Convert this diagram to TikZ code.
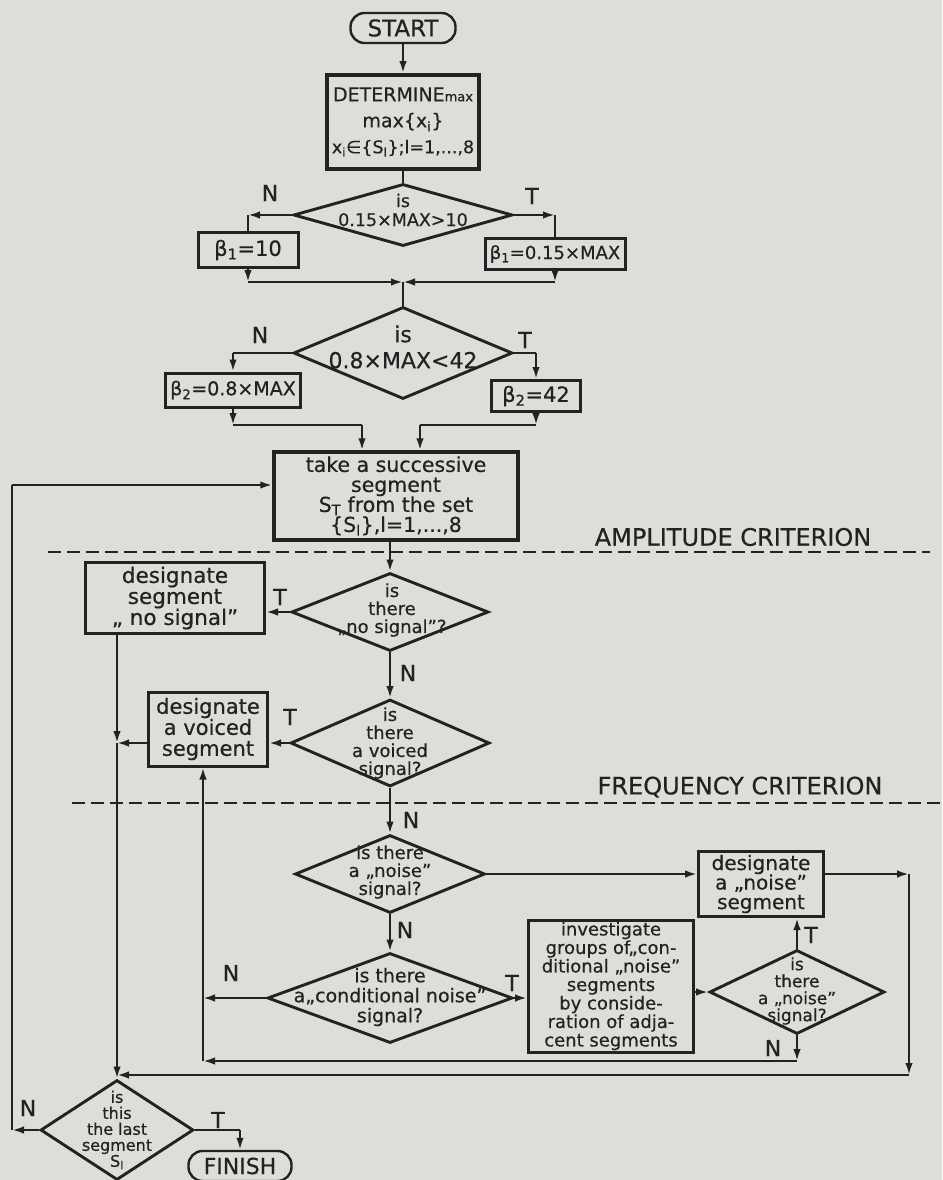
\documentclass[tikz,border=0pt]{standalone}
\usepackage{fontspec}
\setmainfont{DejaVu Sans}[FakeBold=0.5]
\usetikzlibrary{shapes.geometric,arrows.meta}
\definecolor{paper}{RGB}{221,221,217}
\definecolor{ink}{RGB}{34,34,34}
\newcommand{\fsz}[2]{\fontsize{#1}{#2}\selectfont}
\tikzset{
box/.style={draw=ink,line width=3pt,inner sep=0pt,align=center,text=ink},
dec/.style={diamond,draw=ink,line width=2.9pt,inner sep=0pt},
dtxt/.style={align=center,text=ink,inner sep=0pt},
term/.style={draw=ink,line width=2.4pt,rounded corners=14pt,inner sep=0pt,text=ink},
flow/.style={draw=ink,line width=2.2pt,-{Latex[length=12pt,width=7.5pt]}},
wire/.style={draw=ink,line width=2.2pt},
sepline/.style={draw=ink,line width=2.2pt,dash pattern=on 13pt off 6pt},
yn/.style={text=ink,font=\fsz{22}{22},inner sep=0pt},
crit/.style={text=ink,font=\fsz{24}{24},inner sep=0pt}
}

\begin{document}
\begin{tikzpicture}[x=1pt,y=-1pt]
\fill[paper] (0,0) rectangle (942,1180);
\useasboundingbox (0,0) rectangle (942,1180);

% maximum and thresholds
\node[term,minimum width=105pt,minimum height=30pt,font=\fsz{23}{23}] (start) at (403,28) {START};
\node[box,line width=3.8pt,minimum width=152pt,minimum height=94pt,font=\fsz{19}{26}] (det) at (403,122)
  {DETERMINE{\fsz{13}{13}max}\\max\{x\textsubscript{i}\}\\{\fsz{17.5}{26}x\textsubscript{i}∈\{S\textsubscript{l}\};l=1,...,8}};
\node[dec,minimum width=219pt,minimum height=62pt] (d1) at (403,215) {};
\node[dtxt,font=\fsz{17.5}{19}] (d1t) at (403,210) {is\\0.15×MAX>10};
\node[box,minimum width=100pt,minimum height=35pt,font=\fsz{21}{21}] (b1a) at (248,250) {β\textsubscript{1}=10};
\node[box,minimum width=140pt,minimum height=31pt,font=\fsz{18}{18}] (b1b) at (555,254) {β\textsubscript{1}=0.15×MAX};
\node[yn] (n1) at (270,193) {N};
\node[yn] (t1) at (532,196) {T};
\coordinate (j1) at (403,282);

\node[dec,minimum width=219pt,minimum height=92pt] (d2) at (403,353) {};
\node[dtxt,font=\fsz{22}{26}] (d2t) at (403,347) {is\\0.8×MAX<42};
\node[box,minimum width=135pt,minimum height=34pt,font=\fsz{19}{19}] (b2a) at (233,390) {β\textsubscript{2}=0.8×MAX};
\node[box,minimum width=89pt,minimum height=31pt,font=\fsz{21}{21}] (b2b) at (536,396) {β\textsubscript{2}=42};
\node[yn] (n2) at (260,335) {N};
\node[yn] (t2) at (525,340) {T};
\coordinate (k2) at (0,425);
\coordinate (tL) at (362,0);
\coordinate (tR) at (420,0);

\draw[flow] (start) -- (det);
\draw[wire] (det) -- (d1);
\draw[flow] (d1.west) -- (d1.west -| b1a.north);
\draw[wire] (d1.west -| b1a.north) -- (b1a.north);
\draw[flow] (d1.east) -- (d1.east -| b1b.north);
\draw[wire] (d1.east -| b1b.north) -- (b1b.north);
\draw[flow] (b1a.south) -- (b1a.south |- j1);
\draw[flow] (b1a.south |- j1) -- (j1);
\draw[flow] (b1b.south) -- (b1b.south |- j1);
\draw[flow] (b1b.south |- j1) -- (j1);
\draw[wire] (j1) -- (d2.north);
\draw[wire] (d2.west) -- (d2.west -| b2a.north);
\draw[flow] (d2.west -| b2a.north) -- (b2a.north);
\draw[wire] (d2.east) -- (d2.east -| b2b.north);
\draw[flow] (d2.east -| b2b.north) -- (b2b.north);

% segment loop
\node[box,line width=3.4pt,minimum width=244pt,minimum height=88pt,font=\fsz{20.5}{20}] (take) at (396,496)
  {take a successive\\segment\\S\textsubscript{T} from the set\\\{S\textsubscript{l}\},l=1,...,8};
\draw[flow] (b2a.south) -- (b2a.south |- k2);
\draw[wire] (b2a.south |- k2) -- (tL |- k2);
\draw[flow] (tL |- k2) -- (tL |- take.north);
\draw[flow] (b2b.south) -- (b2b.south |- k2);
\draw[wire] (b2b.south |- k2) -- (tR |- k2);
\draw[flow] (tR |- k2) -- (tR |- take.north);

\node[crit] (amp) at (733,537) {AMPLITUDE CRITERION};
\draw[sepline] (48,552) -- (930,552);

\node[dec,minimum width=197pt,minimum height=78pt] (d3) at (390,612) {};
\node[dtxt,font=\fsz{18}{18}] (d3t) at (392,610) {is\\there\\„no signal"?};
\node[box,minimum width=179pt,minimum height=71pt,font=\fsz{21.5}{21}] (ns) at (175,598) {designate\\segment\\„ no signal"};
\node[yn] (t3) at (280,597) {T};
\node[yn] (n3) at (408,673) {N};

\node[dec,minimum width=199pt,minimum height=87pt] (d4) at (390,743) {};
\node[dtxt,font=\fsz{18}{18}] (d4t) at (390,743) {is\\there\\a voiced\\signal?};
\node[box,minimum width=119pt,minimum height=74pt,font=\fsz{21}{21}] (vb) at (208,729) {designate\\a voiced\\segment};
\node[yn] (t4) at (290,717) {T};
\node[yn] (n4) at (411,820) {N};

\node[crit] (freq) at (740,787) {FREQUENCY CRITERION};
\draw[sepline] (72,803) -- (942,803);

\node[dec,minimum width=190pt,minimum height=78pt] (d5) at (390,874) {};
\node[dtxt,font=\fsz{18}{18}] (d5t) at (390,872) {is there\\a „noise"\\signal?};
\node[box,minimum width=125pt,minimum height=65pt,font=\fsz{20}{19.5}] (nb) at (761,884) {designate\\a „noise"\\segment};
\node[yn] (n5) at (405,930) {N};

\node[dec,minimum width=245pt,minimum height=90pt] (d6) at (390,998) {};
\node[dtxt,font=\fsz{19}{20}] (d6t) at (390,997) {is there\\a„conditional noise"\\signal?};
\node[yn] (n6) at (231,973) {N};
\node[yn] (t6) at (512,983) {T};
\node[box,minimum width=165pt,minimum height=132pt,font=\fsz{18}{18.5}] (inv) at (611,986)
  {investigate\\groups of„con-\\ditional „noise"\\segments\\by conside-\\ration of adja-\\cent segments};

\node[dec,minimum width=175pt,minimum height=84pt] (d7) at (797,992) {};
\node[dtxt,font=\fsz{17}{17}] (d7t) at (797,991) {is\\there\\a „noise"\\signal?};
\node[yn] (t7) at (811,935) {T};
\node[yn] (n7) at (773,1048) {N};

\node[dec,minimum width=153pt,minimum height=100pt] (ld) at (117,1130) {};
\node[dtxt,font=\fsz{16}{16}] (ldt) at (117,1130) {is\\this\\the last\\segment\\S\textsubscript{l}};
\node[yn] (n8) at (28,1108) {N};
\node[yn] (t8) at (218,1120) {T};
\node[term,minimum width=103pt,minimum height=30pt,font=\fsz{22}{22}] (fin) at (240,1166) {FINISH};

\coordinate (cx) at (117,0);
\coordinate (vx) at (203,0);
\coordinate (rx) at (909,0);
\coordinate (lx) at (12,0);
\coordinate (lpy) at (0,485);
\coordinate (back1) at (0,1075);
\coordinate (back2) at (0,1061);

\draw[flow] (take.south -| d3) -- (d3.north);
\draw[flow] (d3.west) -- (d3.west -| ns.east);
\draw[flow] (d3.south) -- (d4.north);
\draw[flow] (d4.west) -- (d4.west -| vb.east);
\draw[flow] (vb.west |- d4.west) -- (cx |- d4.west);
\draw[flow] (ns.south -| cx) -- (cx |- d4.west);
\draw[flow] (cx |- d4.west) -- (ld.north);
\draw[flow] (d4.south) -- (d5.north);
\draw[flow] (d5.east) -- (d5.east -| nb.west);
\draw[flow] (nb.east |- d5.east) -- (rx |- d5.east);
\draw[flow] (rx |- d5.east) -- (rx |- back1);
\draw[flow] (rx |- back1) -- (cx |- back1);
\draw[flow] (d5.south) -- (d6.north);
\draw[flow] (d6.west) -- (vx |- d6.west);
\draw[flow] (d6.east) -- (d6.east -| inv.west);
\draw[flow] (inv.east |- d7.west) -- (d7.west);
\draw[flow] (d7.north) -- (d7.north |- nb.south);
\draw[flow] (d7.south) -- (d7.south |- back2);
\draw[flow] (d7.south |- back2) -- (vx |- back2);
\draw[flow] (vx |- back2) -- (vx |- vb.south);
\draw[flow] (ld.west) -- (lx |- ld.west);
\draw[wire] (lx |- ld.west) -- (lx |- lpy);
\draw[flow] (lx |- lpy) -- (take.west |- lpy);
\draw[wire] (ld.east) -- (fin.north |- ld.east);
\draw[flow] (fin.north |- ld.east) -- (fin.north);
\end{tikzpicture}
\end{document}
